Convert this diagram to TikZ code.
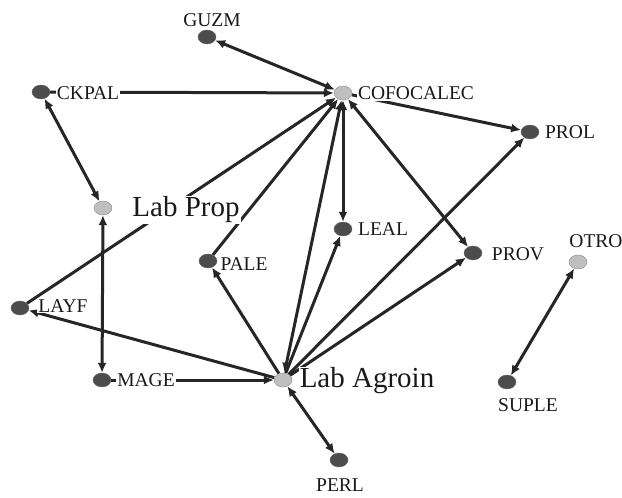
\documentclass[tikz,border=0pt]{standalone}
\usepackage{fontspec}
\setmainfont{Liberation Serif}
\usetikzlibrary{arrows.meta,shapes.geometric,backgrounds}
\tikzset{
  dn/.style={ellipse,draw=black!60,fill=black!70,minimum width=18pt,minimum height=14pt,inner sep=0pt},
  ln/.style={ellipse,draw=black!45,fill=black!25,minimum width=18pt,minimum height=14pt,inner sep=0pt},
  lab/.style={fill=white,inner sep=1pt,font=\fontsize{19.5}{20}\selectfont,text=black!90},
  biglab/.style={fill=white,inner sep=1pt,font=\fontsize{29}{29}\selectfont,text=black!90},
  ed/.style={draw=black!85,line width=3pt,-{Latex[length=10pt,width=9pt]}},
  bed/.style={draw=black!85,line width=3pt,{Latex[length=10pt,width=9pt]}-{Latex[length=10pt,width=9pt]}}
}
\begin{document}
\begin{tikzpicture}[x=1pt,y=-1pt]
\useasboundingbox (0,0) rectangle (622,498);
% nodes
\node[dn] (guzm) at (207,37) {};
\node[dn] (ckpal) at (41,92) {};
\node[ln] (cofo) at (343,93) {};
\node[dn] (prol) at (530,132) {};
\node[ln] (labprop) at (103,208) {};
\node[dn] (leal) at (343,229) {};
\node[dn] (pale) at (208,261) {};
\node[dn] (prov) at (473,253) {};
\node[ln] (otro) at (578,262) {};
\node[dn] (layf) at (20,308) {};
\node[dn] (mage) at (102,380) {};
\node[ln] (labagro) at (283,380) {};
\node[dn] (suple) at (507,382) {};
\node[dn] (perl) at (339,460) {};
% edges
\begin{pgfonlayer}{background}
\draw[bed] (guzm) -- (cofo);
\draw[ed] (ckpal) -- (cofo);
\draw[bed] (ckpal) -- (labprop);
\draw[bed] (labprop) -- (mage);
\draw[ed] (layf) -- (cofo);
\draw[ed] (pale) -- (cofo);
\draw[bed] (labagro) -- (cofo);
\draw[bed] (leal) -- (cofo);
\draw[bed] (prov) -- (cofo);
\draw[ed] (cofo) -- (prol);
\draw[ed] (labagro) -- (pale);
\draw[ed] (labagro) -- (leal);
\draw[ed] (labagro) -- (prol);
\draw[ed] (labagro) -- (prov);
\draw[ed] (labagro) -- (layf);
\draw[ed] (mage) -- (labagro);
\draw[bed] (labagro) -- (perl);
\draw[bed] (otro) -- (suple);
\end{pgfonlayer}
% labels
\node[lab] (tguzm) at (212,20) {GUZM};
\node[lab] (tckpal) at (88,93) {CKPAL};
\node[lab] (tcofo) at (416,93) {COFOCALEC};
\node[lab] (tprol) at (570,132) {PROL};
\node[biglab] (tlabprop) at (186,210) {Lab Prop};
\node[lab] (tleal) at (383,229) {LEAL};
\node[lab] (tpale) at (244,264) {PALE};
\node[lab] (tprov) at (518,254) {PROV};
\node[lab] (totro) at (596,241) {OTRO};
\node[lab] (tlayf) at (63,306) {LAYF};
\node[lab] (tmage) at (146,380) {MAGE};
\node[biglab] (tlabagro) at (367,381) {Lab Agroin};
\node[lab] (tsuple) at (528,405) {SUPLE};
\node[lab] (tperl) at (340,485) {PERL};
\end{tikzpicture}
\end{document}
